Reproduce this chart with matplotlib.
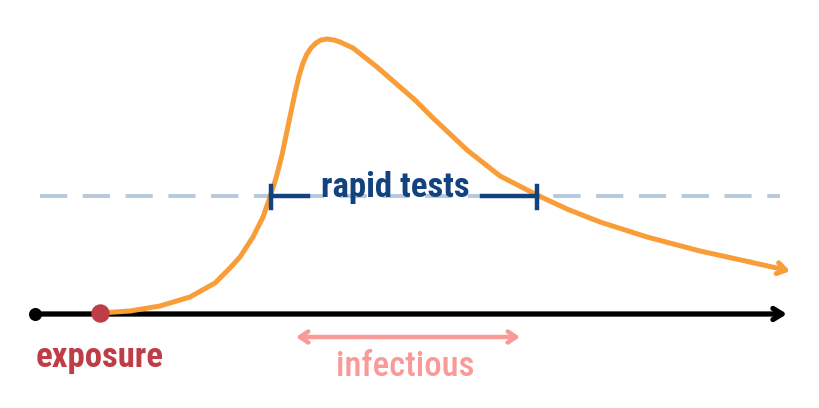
import numpy as np
import matplotlib.pyplot as plt

# Viral load curve (pixel coords, y downward)
curve_x = [100, 130, 160, 190, 215, 230, 240, 253, 263, 270, 276, 282, 287, 291, 295,
           299, 303, 307, 311, 316, 321, 327, 334, 340, 353, 377, 400, 415, 433, 467,
           500, 537, 567, 600, 647, 700, 750, 790]
curve_y = [313, 311, 306, 297, 283, 268, 257, 237, 217, 197, 178, 155, 131, 112, 93,
           76, 63, 54, 48, 43, 40, 39, 40, 42, 48, 67, 87, 100, 118, 150,
           176, 195, 209, 222, 237, 251, 262, 271]

# Timeline and thresholds
axis_start, axis_end, axis_y = 35, 787, 314
exposure_x = 100
threshold_y = 196
rapid_start, rapid_end = 271, 537
infectious_start, infectious_end = 296, 520

cond = ['Roboto Condensed', 'DejaVu Sans']

fig = plt.figure(figsize=(8.2, 4.08), dpi=100)
ax = fig.add_axes([0, 0, 1, 1])
ax.set_xlim(0, 820)
ax.set_ylim(408, 0)
ax.axis('off')

# dashed detection threshold
ax.plot([40, 780], [threshold_y, threshold_y], color='#b7c9dc', lw=2.8,
        dashes=(7, 4), zorder=1)

# orange curve with arrow head
ax.plot(curve_x[:-1], curve_y[:-1], color='#f89d38', lw=3.6, solid_capstyle='round',
        solid_joinstyle='round', zorder=3)
ax.annotate('', xy=(curve_x[-1], curve_y[-1]), xytext=(curve_x[-2], curve_y[-2]),
            arrowprops=dict(arrowstyle='->,head_length=0.6,head_width=0.4',
                            color='#f89d38', lw=3.6, shrinkA=0, shrinkB=0), zorder=3)

# black time axis
ax.annotate('', xy=(axis_end, axis_y), xytext=(axis_start, axis_y),
            arrowprops=dict(arrowstyle='->,head_length=0.65,head_width=0.4',
                            color='black', lw=3.8, shrinkA=0, shrinkB=0), zorder=2)
ax.scatter([axis_start], [axis_y], s=70, color='black', zorder=4)
ax.scatter([exposure_x], [axis_y - 1], s=150, color='#bf3d47', zorder=5)

# rapid tests bracket
blue = '#12427f'
ax.plot([rapid_start, 308], [threshold_y, threshold_y], color=blue, lw=3.2, zorder=4)
ax.plot([482, rapid_end], [threshold_y, threshold_y], color=blue, lw=3.2, zorder=4)
for xv in (rapid_start, rapid_end):
    ax.plot([xv, xv], [threshold_y - 10, threshold_y + 12], color=blue, lw=3.2, zorder=4)
ax.text(395, 188, 'rapid tests', color=blue, fontsize=25, fontweight='bold',
        family=cond, ha='center', va='center', zorder=5)

# infectious arrow
ax.annotate('', xy=(infectious_start, 337), xytext=(infectious_end, 337),
            arrowprops=dict(arrowstyle='<->,head_length=0.6,head_width=0.4',
                            color='#fa9a98', lw=3.2, shrinkA=0, shrinkB=0))
ax.text(405, 367, 'infectious', color='#fa9a98', fontsize=25, fontweight='medium',
        family=cond, ha='center', va='center')

ax.text(100, 357, 'exposure', color='#bf3d47', fontsize=25, fontweight='bold',
        family=cond, ha='center', va='center')

fig.savefig('out.png', dpi=100)
